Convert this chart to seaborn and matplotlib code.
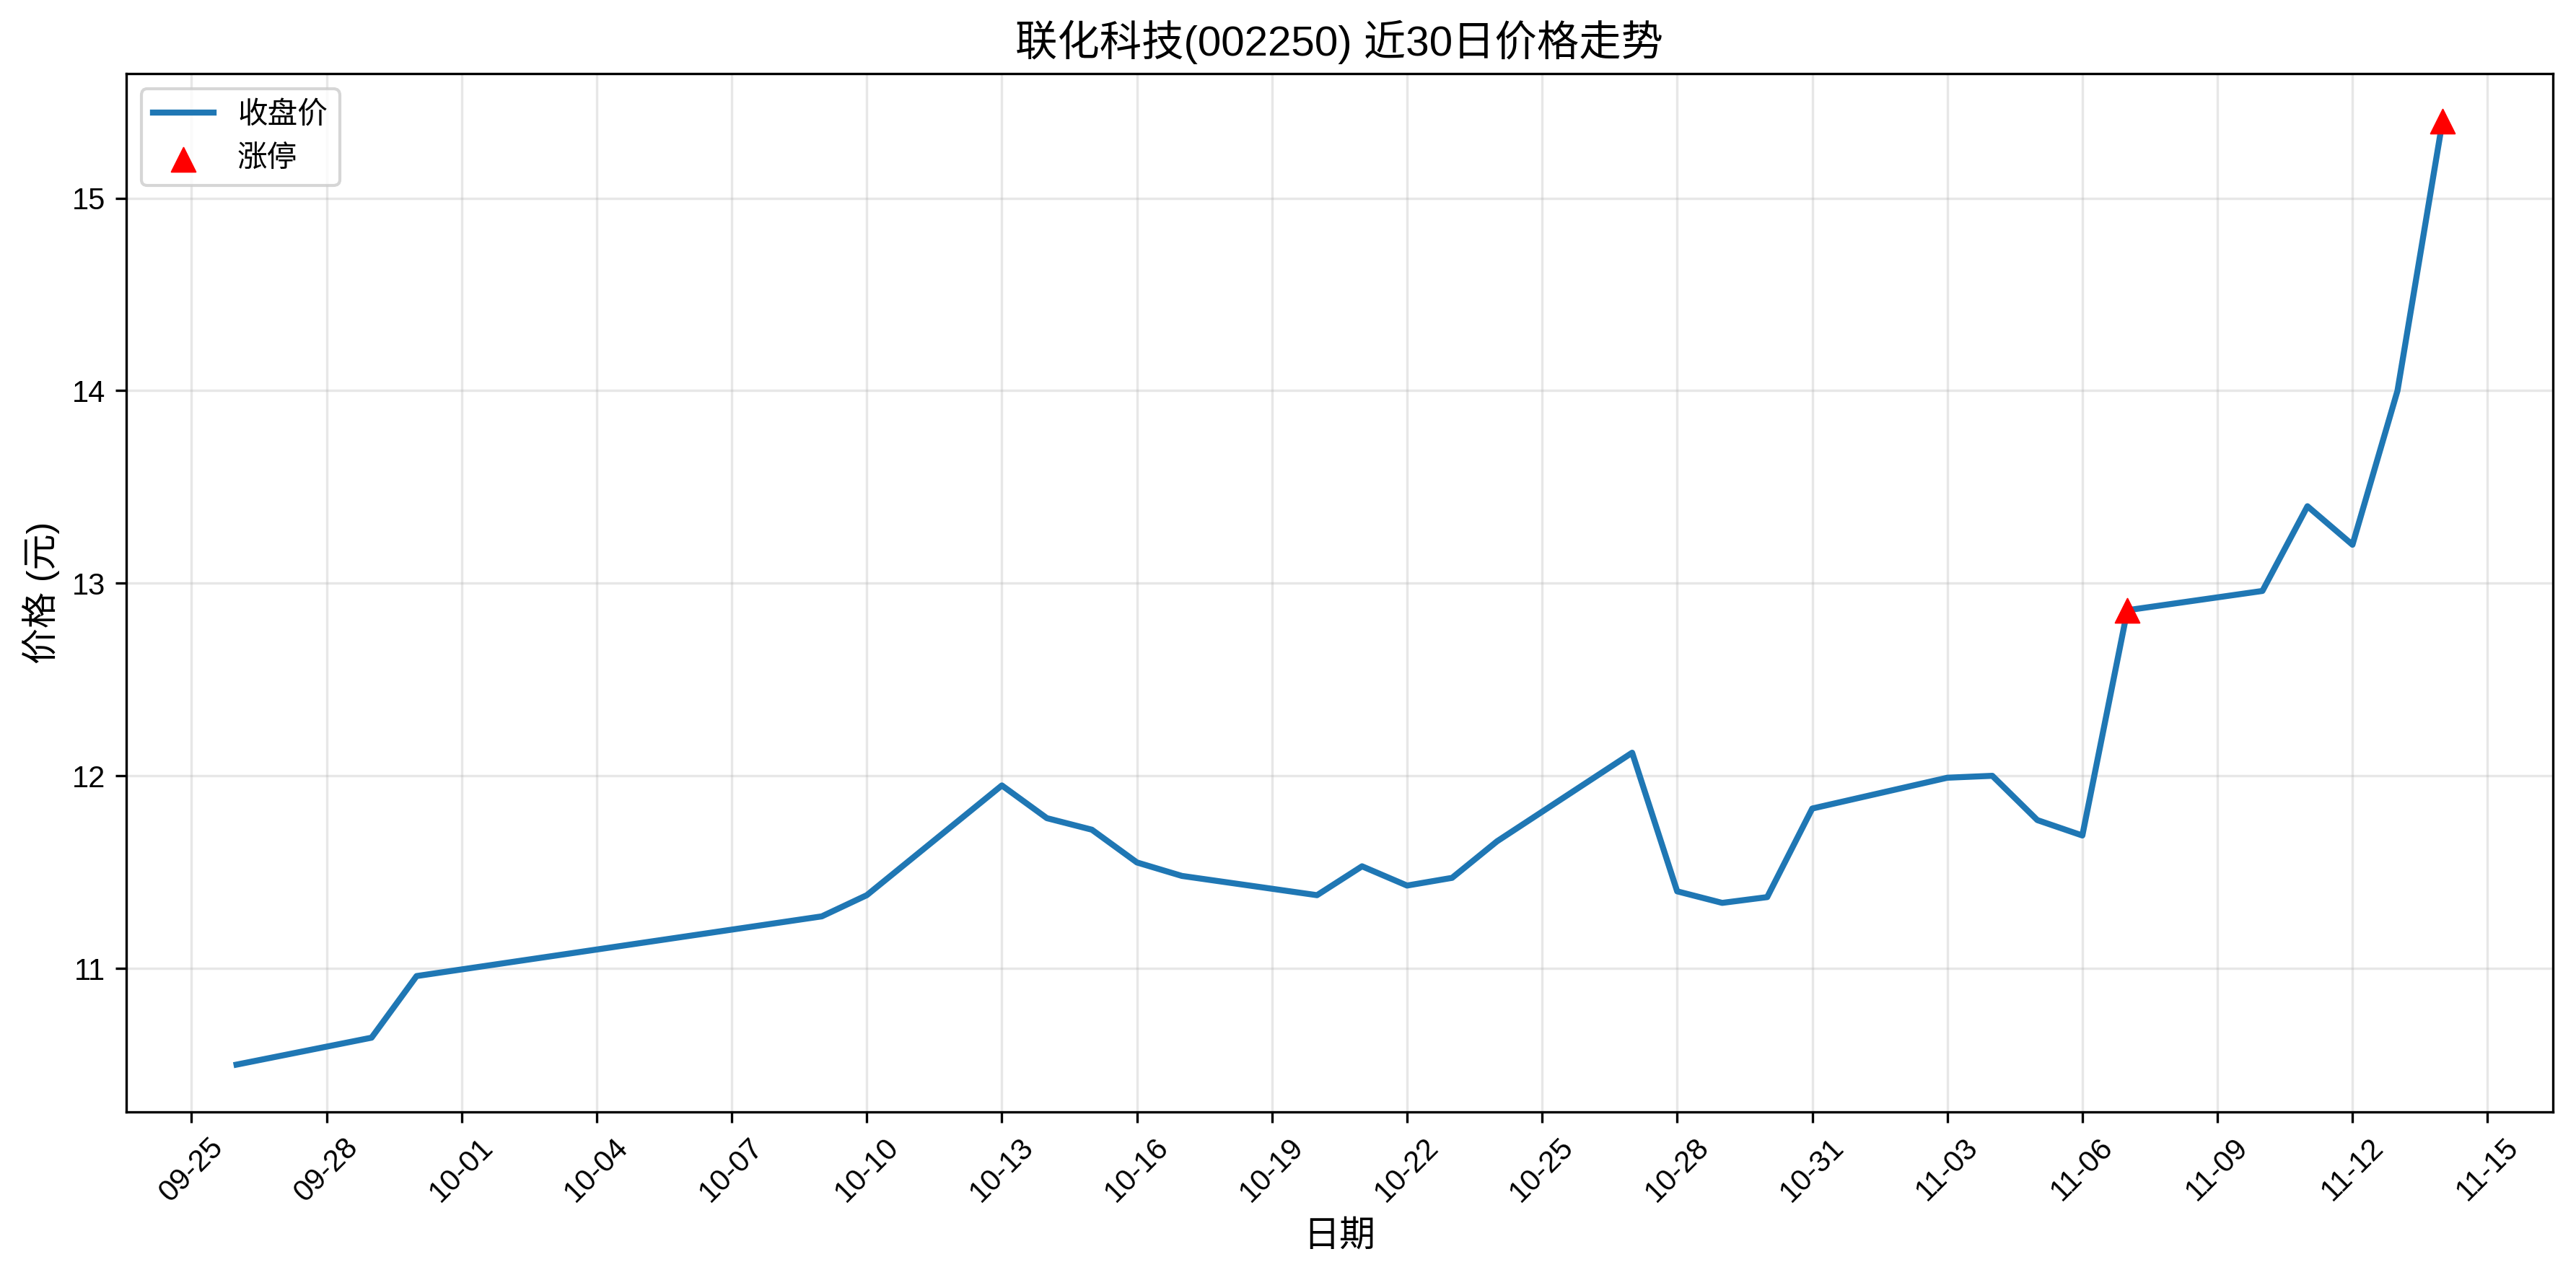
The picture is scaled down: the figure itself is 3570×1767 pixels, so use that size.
import matplotlib
matplotlib.use("Agg")
import matplotlib.pyplot as plt
import matplotlib.dates as mdates
import seaborn as sns
import pandas as pd

dates = ["2025-09-26", "2025-09-29", "2025-09-30", "2025-10-09", "2025-10-10",
         "2025-10-13", "2025-10-14", "2025-10-15", "2025-10-16", "2025-10-17",
         "2025-10-20", "2025-10-21", "2025-10-22", "2025-10-23", "2025-10-24",
         "2025-10-27", "2025-10-28", "2025-10-29", "2025-10-30", "2025-10-31",
         "2025-11-03", "2025-11-04", "2025-11-05", "2025-11-06", "2025-11-07",
         "2025-11-10", "2025-11-11", "2025-11-12", "2025-11-13", "2025-11-14"]
close = [10.50, 10.64, 10.96, 11.27, 11.38,
         11.95, 11.78, 11.72, 11.55, 11.48,
         11.38, 11.53, 11.43, 11.47, 11.66,
         12.12, 11.40, 11.34, 11.37, 11.83,
         11.99, 12.00, 11.77, 11.69, 12.86,
         12.96, 13.40, 13.20, 14.00, 15.40]
limit_up_dates = ["2025-11-07", "2025-11-14"]
limit_up_prices = [12.86, 15.40]

title = "联化科技(002250) 近30日价格走势"
xlabel = "日期"
ylabel = "价格 (元)"
line_label = "收盘价"
mark_label = "涨停"

plt.rcParams["font.family"] = ["Liberation Sans", "Noto Sans CJK SC", "DejaVu Sans"]
plt.rcParams["axes.unicode_minus"] = False

df = pd.DataFrame({"date": pd.to_datetime(dates), "close": close})
lu = pd.DataFrame({"date": pd.to_datetime(limit_up_dates), "price": limit_up_prices})

fig, ax = plt.subplots(figsize=(11.9, 5.89), dpi=300)
sns.lineplot(data=df, x="date", y="close", ax=ax, color="#1f77b4", linewidth=2, label=line_label)
sns.scatterplot(data=lu, x="date", y="price", ax=ax, color="red", marker="^", s=65,
                edgecolor="red", linewidth=0.5, label=mark_label, zorder=5)

ax.set_title(title, fontsize=14)
ax.set_xlabel(xlabel, fontsize=12)
ax.set_ylabel(ylabel, fontsize=12)
ax.xaxis.set_major_locator(mdates.DayLocator(interval=3))
ax.xaxis.set_major_formatter(mdates.DateFormatter("%m-%d"))
plt.setp(ax.get_xticklabels(), rotation=45)
ax.tick_params(labelsize=10)
ax.grid(True, alpha=0.3)
ax.legend(loc="upper left", fontsize=10)
fig.subplots_adjust(left=0.049, right=0.991, top=0.942, bottom=0.128)
fig.savefig("out.png", dpi=300)
